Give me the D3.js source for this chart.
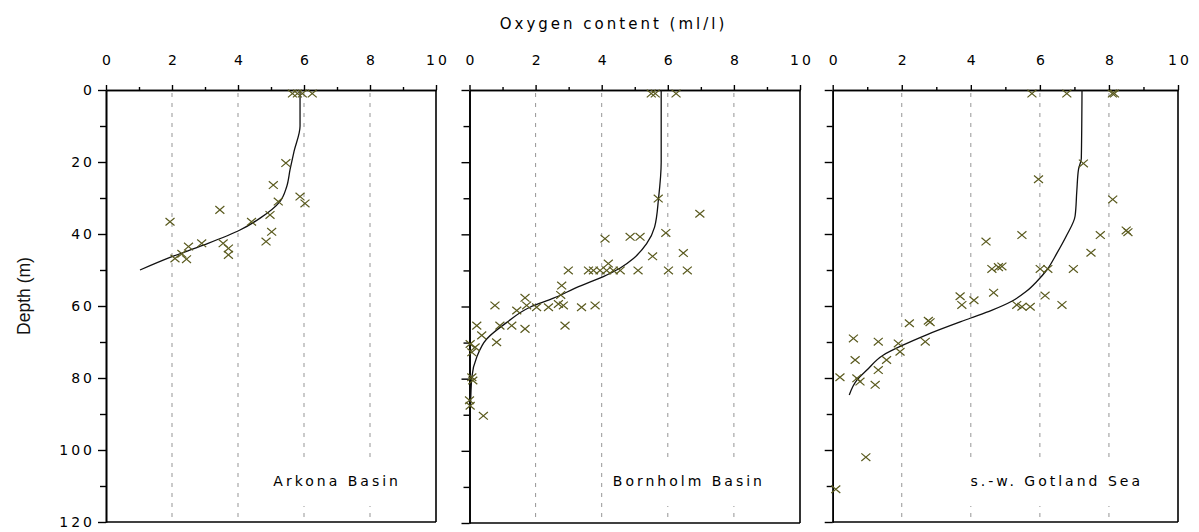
<!DOCTYPE html>
<html>
<head>
<meta charset="utf-8">
<script src="https://cdn.jsdelivr.net/npm/d3@7"></script>
<style>
  html, body { margin: 0; padding: 0; background: #fff; }
  svg { display: block; }
</style>
</head>
<body>
<svg id="chart" width="1199" height="532"></svg>
<script>
// Oxygen profiles in three Baltic basins: observations (crosses) and fitted profile (line)
const basinNames = ["Arkona Basin", "Bornholm Basin", "s.-w. Gotland Sea"];
const oxygenTicks = [0, 2, 4, 6, 8, 10];
const oxygenMinorTicks = [1, 3, 5, 7, 9];
const depthTicks = [0, 20, 40, 60, 80, 100, 120];
const depthMinorTicks = [10, 30, 50, 70, 90, 110];

// [oxygen (ml/l), depth (m)]
const arkonaObs = [
  [5.65, 1], [5.8, 1], [5.95, 1], [6.25, 1],
  [5.45, 20.3], [5.07, 26.4], [5.22, 31], [5.88, 29.6], [6.03, 31.5],
  [1.94, 36.6], [3.45, 33.3], [4.41, 36.6], [4.97, 34.7], [5.02, 39.4],
  [4.85, 42.1], [2.9, 42.6], [3.55, 42.6], [3.71, 44], [3.71, 45.8],
  [2.5, 43.5], [2.09, 46.8], [2.44, 47], [2.3, 45.5]
];
const arkonaFit = [
  [5.88, 0], [5.88, 10], [5.7, 17], [5.58, 22], [5.47, 27], [5.27, 31],
  [4.67, 35.6], [4.06, 38.9], [2.95, 43.1], [1.94, 46.5], [1.03, 50]
];

const bornholmObs = [
  [5.5, 1], [5.62, 1], [6.25, 1],
  [5.71, 30.1], [6.97, 34.3], [4.1, 41.2], [4.86, 40.7], [5.16, 40.7],
  [5.94, 39.6], [5.54, 46.1], [6.47, 45.2], [6.02, 50], [6.59, 50],
  [4.2, 48.1], [3.6, 50], [3.75, 50], [3.95, 50], [4.15, 50], [4.35, 50],
  [4.56, 50], [5.1, 50], [2.99, 50], [2.79, 54.2], [2.76, 56.8], [1.68, 57.6],
  [0.77, 59.7], [1.43, 61.1], [1.73, 59.7], [2.03, 60.2], [2.39, 60.2],
  [2.69, 59.3], [2.84, 59.7], [3.39, 60.2], [3.8, 59.7], [2.89, 65.3],
  [0.92, 65.3], [1.28, 65.3], [1.68, 66.2], [0.22, 65.3], [0.37, 68],
  [0.82, 69.9], [0.02, 70.4], [0.17, 71.3], [0.07, 72.7], [0.07, 79.6],
  [0.1, 80.5], [0.0, 86], [0.02, 87.5], [0.42, 90.3]
];
const bornholmFit = [
  [5.8, 0], [5.8, 20], [5.72, 30], [5.6, 38], [5.36, 42.6], [4.96, 46.7],
  [4.55, 49.4], [4.05, 51.7], [3.3, 54.5], [2.54, 57.7], [1.83, 60.2],
  [1.13, 64.4], [0.52, 69], [0.22, 74], [0.07, 79.6], [0.03, 88]
];

const gotlandObs = [
  [5.77, 1], [6.78, 1], [8.1, 1], [8.16, 1],
  [7.26, 20.4], [5.96, 24.8], [8.11, 30.4], [7.75, 40.3], [7.48, 45.2],
  [8.5, 39], [8.55, 39.5], [6.97, 49.7], [6.01, 49.7], [6.23, 49.7],
  [5.48, 40.3], [4.44, 42.1], [4.61, 49.7], [4.8, 49.2], [4.9, 49],
  [4.66, 56.3], [6.15, 57.1], [3.69, 57.3], [4.09, 58.4],
  [3.74, 59.7], [5.33, 59.7], [5.48, 60.2], [5.72, 60.2], [6.64, 59.7],
  [2.22, 64.8], [2.77, 64.1], [2.82, 64.5], [2.68, 69.9], [1.9, 70.4],
  [1.95, 72.7], [1.32, 69.9], [0.6, 69], [0.65, 75], [1.56, 75],
  [1.32, 77.8], [1.23, 81.9], [0.21, 79.8], [0.7, 80.1], [0.79, 81],
  [0.96, 102], [0.09, 110.9]
];
const gotlandFit = [
  [7.22, 0], [7.2, 19], [7.12, 22], [7.07, 28], [7.02, 35], [6.78, 40.3],
  [6.49, 45.4], [6.2, 50], [5.91, 53.2], [5.6, 56], [5.2, 58.6],
  [4.6, 61.2], [3.98, 63.4], [2.72, 68], [2.05, 70.8], [1.47, 73.6],
  [0.99, 77.8], [0.7, 80.6], [0.48, 84.7]
];

const observations = [arkonaObs, bornholmObs, gotlandObs];
const fits = [arkonaFit, bornholmFit, gotlandFit];

// panel frames
const frames = [
  { left: 106, right: 436, top: 90, bottom: 522 },
  { left: 469.5, right: 800, top: 90, bottom: 523 },
  { left: 832.7, right: 1178, top: 90, bottom: 522 }
];

const FONT = "'DejaVu Sans', Verdana, sans-serif";
const LS = 3; // letter spacing
const markColor = "#5a5a1e";

const svg = d3.select("#chart");

function styleAxis(g) {
  g.select(".domain").attr("stroke", "#000").attr("stroke-width", 1.6);
  g.selectAll(".tick line").attr("stroke", "#000").attr("stroke-width", 1.4);
  g.selectAll(".tick text")
    .attr("fill", "#000")
    .style("font-family", FONT)
    .style("font-size", "14px")
    .style("letter-spacing", LS + "px");
}

frames.forEach((f, i) => {
  const x = d3.scaleLinear().domain([0, 10]).range([f.left, f.right]);
  const y = d3.scaleLinear().domain([0, 120]).range([f.top, f.bottom]);
  const g = svg.append("g");

  // dashed vertical grid
  g.append("g").selectAll("line")
    .data(oxygenTicks.filter(t => t > 0 && t < 10))
    .join("line")
    .attr("x1", d => x(d)).attr("x2", d => x(d))
    .attr("y1", y(0) + 3).attr("y2", y(120))
    .attr("stroke", "#959595")
    .attr("stroke-width", 1)
    .attr("stroke-dasharray", "4,6");

  // basin name, on a white patch
  const label = g.append("text")
    .attr("x", f.right - 38 + LS)
    .attr("y", 486)
    .attr("text-anchor", "end")
    .style("font-family", FONT)
    .style("font-size", "14px")
    .style("letter-spacing", LS + "px")
    .attr("fill", "#000")
    .text(basinNames[i]);
  const bb = label.node().getBBox();
  g.insert("rect", "text")
    .attr("x", bb.x - 9).attr("y", 462)
    .attr("width", bb.width + 14).attr("height", 44)
    .attr("fill", "#fff");

  // frame: top axis, left axis, right and bottom borders
  const topMajor = g.append("g").attr("transform", `translate(0,${f.top})`)
    .call(d3.axisTop(x).tickValues(oxygenTicks).tickSize(5).tickSizeOuter(0)
      .tickPadding(20).tickFormat(d3.format("d")));
  styleAxis(topMajor);
  topMajor.selectAll(".tick text").attr("dx", LS / 2);
  const topMinor = g.append("g").attr("transform", `translate(0,${f.top})`)
    .call(d3.axisTop(x).tickValues(oxygenMinorTicks).tickSize(3).tickSizeOuter(0).tickFormat(""));
  styleAxis(topMinor);

  const leftMajor = g.append("g").attr("transform", `translate(${f.left},0)`)
    .call(d3.axisLeft(y).tickValues(depthTicks).tickSize(8).tickSizeOuter(0)
      .tickPadding(6).tickFormat(i === 0 ? d3.format("d") : () => ""));
  styleAxis(leftMajor);
  leftMajor.selectAll(".tick text").attr("dx", LS);
  const leftMinor = g.append("g").attr("transform", `translate(${f.left},0)`)
    .call(d3.axisLeft(y).tickValues(depthMinorTicks).tickSize(6).tickSizeOuter(0).tickFormat(""));
  styleAxis(leftMinor);

  g.append("line")
    .attr("x1", x(10)).attr("x2", x(10)).attr("y1", y(0)).attr("y2", y(120))
    .attr("stroke", "#000").attr("stroke-width", 1.6);
  g.append("line")
    .attr("x1", x(0)).attr("x2", x(10)).attr("y1", y(120)).attr("y2", y(120))
    .attr("stroke", "#000").attr("stroke-width", 1.6);

  // fitted profile
  const line = d3.line().x(d => x(d[0])).y(d => y(d[1])).curve(d3.curveMonotoneY);
  g.append("path")
    .datum(fits[i])
    .attr("d", line)
    .attr("fill", "none")
    .attr("stroke", "#111")
    .attr("stroke-width", 1.3);

  // observations
  g.append("g").selectAll("path")
    .data(observations[i])
    .join("path")
    .attr("transform", d => `translate(${x(d[0])},${y(d[1])})`)
    .attr("d", "M-4.5,-3.8L4.5,3.8M-4.5,3.8L4.5,-3.8")
    .attr("stroke", markColor)
    .attr("stroke-width", 1.2)
    .attr("fill", "none");
});

// axis titles
svg.append("text")
  .attr("x", 612 + LS / 2).attr("y", 29)
  .attr("text-anchor", "middle")
  .style("font-family", FONT)
  .style("font-size", "15px")
  .style("letter-spacing", LS + "px")
  .attr("fill", "#000")
  .text("Oxygen content (ml/l)");

svg.append("text")
  .attr("transform", "translate(30,296) rotate(-90)")
  .attr("text-anchor", "middle")
  .style("font-family", "'Liberation Sans', Arial, sans-serif")
  .style("font-size", "17.5px")
  .attr("fill", "#111")
  .text("Depth (m)");
</script>
</body>
</html>
